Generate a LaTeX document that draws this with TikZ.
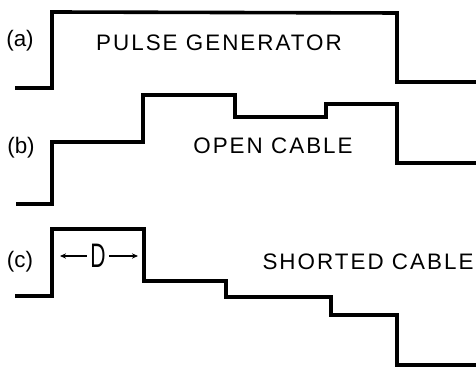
\documentclass[tikz,border=0pt]{standalone}
\usepackage{fontspec}
\usepackage{graphicx}
\setmainfont{Liberation Sans}
\newfontfamily\spacedfont{Liberation Sans}[LetterSpace=9]
\usetikzlibrary{arrows.meta}

\begin{document}
\begin{tikzpicture}[x=0.5pt, y=-0.5pt,
    wave/.style={line width=1.8pt, line join=miter},
    title/.style={font=\spacedfont\fontsize{11.2}{13}\selectfont, inner sep=0pt},
    tag/.style={font=\fontsize{11.2}{13}\selectfont, inner sep=0pt},
    dim/.style={line width=0.6pt, -{Stealth[length=3pt, width=2.6pt]}}]
    \useasboundingbox (0,0) rectangle (476,367);
    \draw[wave] (15,88) -- (52,88) -- (52,12) -- (397,13) -- (397,82) -- (476,82);
    \draw[wave] (16,204) -- (52,204) -- (52,142) -- (143,142) -- (143,95) -- (235,95)
        -- (235,117) -- (326,117) -- (326,104) -- (397,104) -- (397,163) -- (476,163);
    \draw[wave] (15,296) -- (52,296) -- (52,229) -- (144,229) -- (144,281) -- (226,281)
        -- (226,297) -- (331,297) -- (331,315) -- (397,315) -- (397,365) -- (476,365);
    \node[tag] (taga) at (20,41) {(a)};
    \node[tag] (tagb) at (21,148) {(b)};
    \node[tag] (tagc) at (20,262) {(c)};
    \node[title] (pulse) at (219,43) {PULSE GENERATOR};
    \node[title] (open) at (273,146) {OPEN CABLE};
    \node[title] (short) at (368,262) {SHORTED CABLE};
    \node[inner sep=1.5pt, font=\fontsize{17}{18}\selectfont] (dlen) at (98,256) {\scalebox{0.62}[1]{D}};
    \coordinate (dleft) at (60,256);
    \coordinate (dright) at (138,256);
    \draw[dim] (dlen) -- (dleft);
    \draw[dim] (dlen) -- (dright);
\end{tikzpicture}
\end{document}
